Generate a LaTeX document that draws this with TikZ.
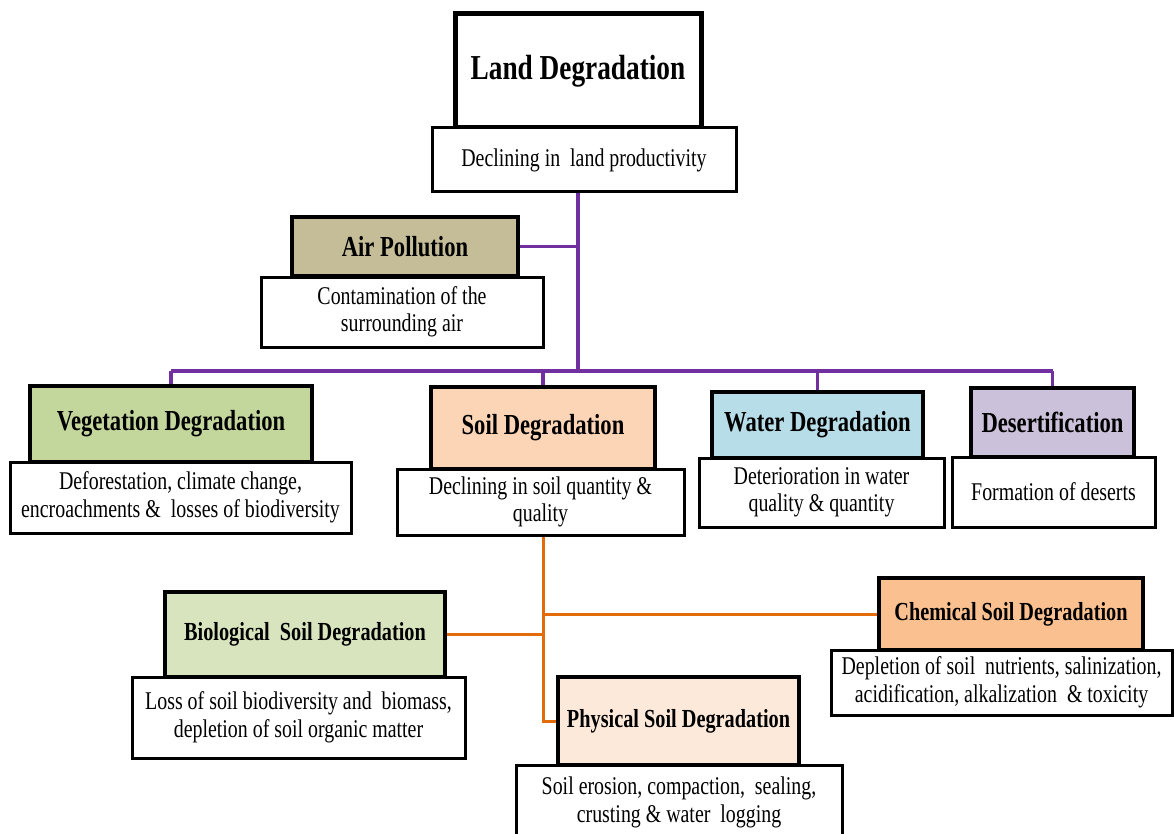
\documentclass[tikz,border=0pt]{standalone}
\usepackage{fontspec}
\setmainfont{Liberation Serif}[FakeStretch=0.78]
\usetikzlibrary{backgrounds}
\definecolor{airc}{HTML}{C4BD97}
\definecolor{vegc}{HTML}{C3D69B}
\definecolor{soilc}{HTML}{FBD5B5}
\definecolor{waterc}{HTML}{B7DEE8}
\definecolor{desc}{HTML}{CCC1DA}
\definecolor{bioc}{HTML}{D7E4BD}
\definecolor{chemc}{HTML}{FAC090}
\definecolor{physc}{HTML}{FDE9D9}
\definecolor{purp}{HTML}{7030A0}
\definecolor{orng}{HTML}{E36C09}
\tikzset{
  box/.style={draw=black, rectangle, inner sep=0pt, align=center, text=black},
  headbox/.style={box, line width=4.5pt},
  subbox/.style={box, line width=3pt, fill=white, font=\fontsize{25.5}{27.5}\selectfont},
  headtwo/.style={headbox, font=\bfseries\fontsize{29}{32}\selectfont},
  headthree/.style={headbox, font=\bfseries\fontsize{26}{29}\selectfont},
  pline/.style={draw=purp, line width=3.5pt},
  oline/.style={draw=orng, line width=3pt},
}
\begin{document}
\begin{tikzpicture}[x=1pt, y=-1pt]
\useasboundingbox (0,0) rectangle (1174,834);
\clip (0,0) rectangle (1174,834);
% headings
\node[headbox, line width=5pt, font=\bfseries\fontsize{35}{40}\selectfont, minimum width=246pt, minimum height=114pt] (title) at (578,71) {Land Degradation};
\node[subbox, minimum width=304pt, minimum height=64pt] (titlesub) at (584,160) {Declining in\ \ land productivity};
\node[headtwo, fill=airc, minimum width=226pt, minimum height=59pt] (air) at (405,246.5) {Air Pollution};
\node[subbox, minimum width=282pt, minimum height=70pt] (airsub) at (402,312) {Contamination of the\\surrounding air};
\node[headtwo, fill=vegc, minimum width=282pt, minimum height=76pt] (veg) at (171,424) {Vegetation Degradation};
\node[subbox, minimum width=341pt, minimum height=71pt] (vegsub) at (180.5,497.5) {Deforestation, climate change,\\encroachments \&\ \ losses of biodiversity};
\node[headtwo, fill=soilc, minimum width=224pt, minimum height=82pt] (soil) at (543,428) {Soil Degradation};
\node[subbox, minimum width=287pt, minimum height=66pt] (soilsub) at (540.5,502) {Declining in soil quantity \&\\quality};
\node[headtwo, fill=waterc, minimum width=211pt, minimum height=66pt] (water) at (817.5,425) {Water Degradation};
\node[subbox, minimum width=245pt, minimum height=69pt] (watersub) at (821.5,492.5) {Deterioration in water\\quality \& quantity};
\node[headtwo, fill=desc, minimum width=163pt, minimum height=69pt] (desert) at (1052.5,422.5) {Desertification};
\node[subbox, minimum width=203pt, minimum height=70pt] (desertsub) at (1053.5,492) {Formation of deserts};
\node[headthree, fill=bioc, minimum width=280pt, minimum height=85pt] (bio) at (305,634.5) {Biological\ \ Soil Degradation};
\node[subbox, minimum width=333pt, minimum height=81pt] (biosub) at (298.5,717.5) {Loss of soil biodiversity and\ \ biomass,\\depletion of soil organic matter};
\node[headthree, fill=chemc, minimum width=264pt, minimum height=72pt] (chem) at (1011,614) {Chemical Soil Degradation};
\node[subbox, minimum width=341pt, minimum height=65pt] (chemsub) at (1001.5,682.5) {Depletion of soil\ \ nutrients, salinization,\\acidification, alkalization\ \ \& toxicity};
\node[headthree, fill=physc, minimum width=241pt, minimum height=88pt] (phys) at (678.5,721) {Physical Soil Degradation};
\node[subbox, minimum width=326pt, minimum height=75pt] (physsub) at (679,802.5) {Soil erosion, compaction,\ \ sealing,\\crusting \& water\ \ logging};
\coordinate (busC) at (578,371);
\begin{pgfonlayer}{background}
  \draw[pline] (title.south |- titlesub.south) -- (busC);
  \draw[pline] (air.east) -- (air.east -| busC);
  \draw[pline] (veg.north |- busC) -- (desert.north |- busC);
  \draw[pline] (veg.north |- busC) -- (veg.north);
  \draw[pline] (soil.north |- busC) -- (soil.north);
  \draw[pline] (water.north |- busC) -- (water.north);
  \draw[pline] (desert.north |- busC) -- (desert.north);
  \draw[oline] (soil.south |- soilsub.south) -- (soil.south |- phys.west) -- (phys.west);
  \draw[oline] (bio.east) -- (bio.east -| soil.south);
  \draw[oline] (chem.west) -- (chem.west -| soil.south);
\end{pgfonlayer}
\end{tikzpicture}
\end{document}
